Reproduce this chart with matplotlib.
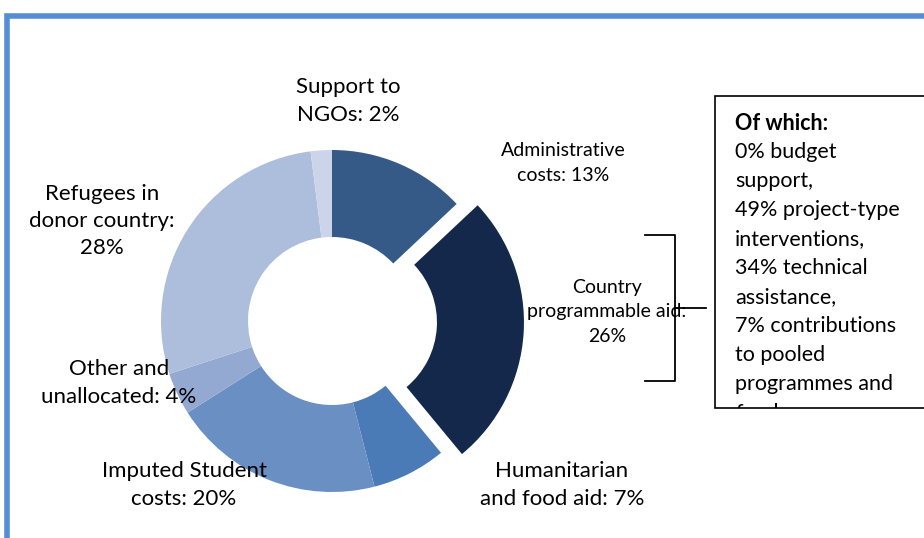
import matplotlib.pyplot as plt
from matplotlib.patches import Rectangle

plt.rcParams['font.family'] = ['Lato', 'DejaVu Sans']

# ODA breakdown, clockwise from 12 o'clock
categories = ['Administrative costs', 'Country programmable aid', 'Humanitarian and food aid',
              'Imputed Student costs', 'Other and unallocated', 'Refugees in donor country',
              'Support to NGOs']
shares = [13, 26, 7, 20, 4, 28, 2]
colors = ['#365a87', '#13284a', '#4a7bb6', '#6a8fc3', '#94a9d2', '#adbedc', '#cbd4e8']
explode = [0, 21, 0, 0, 0, 0, 0]

# label text and placement (pixel coords, y measured from top)
label_text = ['Administrative\ncosts: 13%', 'Country\nprogrammable aid:\n26%',
              'Humanitarian\nand food aid: 7%', 'Imputed Student\ncosts: 20%',
              'Other and\nunallocated: 4%', 'Refugees in\ndonor country:\n28%',
              'Support to\nNGOs: 2%']
label_xy = [(563, 163), (607, 312), (562, 485), (184, 485), (119, 383), (102, 221), (348, 101)]
label_size = [14, 14, 16, 16, 16, 16, 16]
label_spacing = [1.55, 1.55, 1.45, 1.45, 1.45, 1.45, 1.45]

box_lines = ['Of which:', '0% budget', 'support,', '49% project-type', 'interventions,',
             '34% technical', 'assistance,', '7% contributions', 'to pooled',
             'programmes and', 'funds']

W, H = 924, 538
fig = plt.figure(figsize=(W / 100, H / 100), dpi=100)
ax = fig.add_axes([0, 0, 1, 1])

ax.pie(shares, colors=colors, explode=explode, startangle=90, counterclock=False,
       radius=171, center=(332, H - 321),
       wedgeprops=dict(width=87, linewidth=0))

for txt, (x, y), fs, ls in zip(label_text, label_xy, label_size, label_spacing):
    ax.text(x, H - y, txt, ha='center', va='center', fontsize=fs,
            linespacing=ls, color='black')

# bracket grouping the country programmable aid slice
ax.plot([645, 675, 675, 645], [H - 235, H - 235, H - 381, H - 381], color='black', lw=1.3)
ax.plot([675, 706], [H - 308, H - 308], color='black', lw=1.3)

# side box with the breakdown of CPA
box = Rectangle((715, H - 408), 260, 312, facecolor='white', edgecolor='black',
                lw=1.2, clip_on=False)
ax.add_patch(box)
for i, line in enumerate(box_lines):
    t = ax.text(735, H - (123 + 29 * i), line, ha='left', va='center', fontsize=15.5,
                fontweight='bold' if i == 0 else 'normal', clip_on=True)
    t.set_clip_path(box)

# outer chart frame
ax.add_patch(Rectangle((6.5, -20), 1000, H - 15.5 + 20, fill=False,
                       edgecolor='#558ed5', lw=4, clip_on=False))

ax.set_xlim(0, W)
ax.set_ylim(0, H)
ax.set_aspect('equal')
ax.axis('off')

fig.savefig('out.png', dpi=100, facecolor='white')
